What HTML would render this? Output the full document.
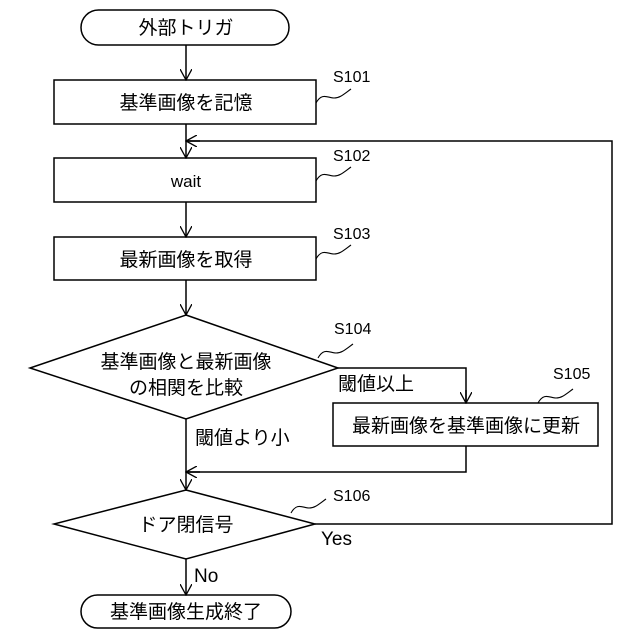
<!DOCTYPE html>
<html><head><meta charset="utf-8"><style>
html,body{margin:0;padding:0;background:#fff}
svg{display:block}
text{font-family:"Liberation Sans","Noto Sans CJK JP",sans-serif;fill:#000}
</style></head><body>
<svg width="640" height="640" viewBox="0 0 640 640" xmlns="http://www.w3.org/2000/svg">
<defs>
<marker id="a" markerWidth="12" markerHeight="12" refX="11" refY="6" orient="auto" markerUnits="userSpaceOnUse">
<path d="M0,0 L11,6 L0,12" fill="none" stroke="#000" stroke-width="1.3"/>
</marker>
</defs>
<g fill="none" stroke="#000" stroke-width="1.5">
<rect x="81" y="10" width="208" height="35" rx="17.5"/>
<rect x="54" y="80" width="262" height="44"/>
<rect x="54" y="158" width="262" height="44"/>
<rect x="54" y="237" width="262" height="43"/>
<polygon points="186,315 338,368 186,419 30,368"/>
<rect x="333" y="403" width="265" height="43"/>
<polygon points="186,490 315,524 186,559 54,524"/>
<rect x="81" y="595" width="210" height="33" rx="16.5"/>
<line x1="186" y1="45" x2="186" y2="80" marker-end="url(#a)"/>
<line x1="186" y1="124" x2="186" y2="158" marker-end="url(#a)"/>
<line x1="186" y1="202" x2="186" y2="237" marker-end="url(#a)"/>
<line x1="186" y1="280" x2="186" y2="315" marker-end="url(#a)"/>
<polyline points="338,368 466,368 466,403"/>
<line x1="466" y1="390" x2="466" y2="403" marker-end="url(#a)"/>
<line x1="186" y1="419" x2="186" y2="490" marker-end="url(#a)"/>
<polyline points="466,446 466,472 186,472"/>
<line x1="200" y1="472" x2="186" y2="472" marker-end="url(#a)"/>
<polyline points="315,524 612,524 612,141 186,141"/>
<line x1="200" y1="141" x2="186" y2="141" marker-end="url(#a)"/>
<line x1="186" y1="559" x2="186" y2="595" marker-end="url(#a)"/>
<g stroke-width="1.1">
<path d="M316,103 C322,92 328,98 334,98 C340,98 344,94 351,89"/>
<path d="M316,181 C322,170 328,176 334,176 C340,176 344,172 351,167"/>
<path d="M316,259 C322,248 328,254 334,254 C340,254 344,250 351,245"/>
<path d="M318,358 C324,347 330,353 336,353 C342,353 346,349 353,344"/>
<path d="M538,403 C544,392 550,398 556,398 C562,398 566,394 573,389"/>
<path d="M291,513 C297,502 303,508 309,508 C315,508 319,504 326,499"/>
</g>
</g>
<g font-size="19" text-anchor="middle">
<text x="186" y="34">外部トリガ</text>
<text x="186" y="109">基準画像を記憶</text>
<text x="186" y="187" font-size="17">wait</text>
<text x="186" y="266">最新画像を取得</text>
<text x="186" y="368">基準画像と最新画像</text>
<text x="186" y="394">の相関を比較</text>
<text x="466" y="432">最新画像を基準画像に更新</text>
<text x="186" y="531">ドア閉信号</text>
<text x="186" y="618">基準画像生成終了</text>
</g>
<g font-size="19">
<text x="338" y="390">閾値以上</text>
<text x="195" y="444">閾値より小</text>
<text x="321" y="545">Yes</text>
<text x="194" y="582">No</text>
</g>
<g font-size="16">
<text x="333" y="82">S101</text>
<text x="333" y="161">S102</text>
<text x="333" y="239">S103</text>
<text x="334" y="334">S104</text>
<text x="553" y="379">S105</text>
<text x="333" y="501">S106</text>
</g>
</svg>
</body></html>
